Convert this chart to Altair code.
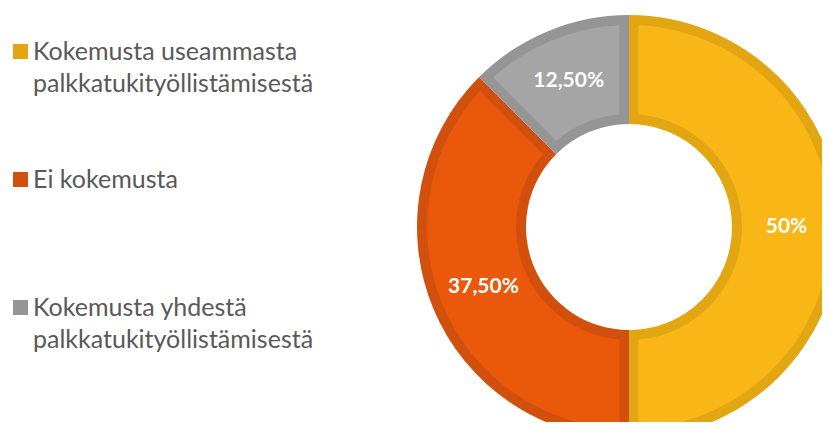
import altair as alt
import pandas as pd

# ---- data ----
categories = [
    "Kokemusta useammasta|palkkatukityöllistämisestä",
    "Ei kokemusta| ",
    "Kokemusta yhdestä|palkkatukityöllistämisestä",
]
values = [50, 37.5, 12.5]
value_labels = ["50%", "37,50%", "12,50%"]
order_idx = [0, 1, 2]
fill_colors = ["#F8B716", "#EA580C", "#A5A5A5"]
border_colors = ["#E2A613", "#D2500D", "#959595"]

df = pd.DataFrame({
    "category": categories,
    "value": values,
    "label": value_labels,
    "idx": order_idx,
    "fill": fill_colors,
})

CX, CY = 621, 219
R_OUT, R_IN = 212, 103
BORDER = 10

base = alt.Chart(df).encode(
    theta=alt.Theta("value:Q", stack=True),
    order=alt.Order("idx:Q"),
)

outer = base.mark_arc(radius=R_OUT, radius2=R_IN).encode(
    x=alt.value(CX),
    y=alt.value(CY),
    color=alt.Color(
        "category:N",
        scale=alt.Scale(domain=categories, range=border_colors),
        sort=categories,
        legend=alt.Legend(
            orient="none",
            legendX=0,
            legendY=31,
            title=None,
            padding=0,
            symbolType="square",
            symbolSize=225,
            symbolStrokeWidth=0,
            symbolOpacity=1,
            labelFont="Lato",
            labelFontSize=25,
            labelColor="#595959",
            labelOffset=0,
            labelLimit=500,
            labelBaseline="middle",
            rowPadding=70,
            labelExpr="split(datum.label, '|')",
        ),
    ),
)

inner = base.mark_arc(
    radius=R_OUT - BORDER, radius2=R_IN + BORDER, padAngle=0.082
).encode(
    x=alt.value(CX),
    y=alt.value(CY),
    fill=alt.Fill("fill:N", scale=None),
)

text = base.mark_text(
    radius=(R_OUT + R_IN) / 2,
    font="Lato",
    fontSize=21,
    fontWeight="bold",
    color="white",
).encode(
    x=alt.value(CX),
    y=alt.value(CY),
    text="label:N",
)

chart = (
    alt.layer(outer, inner, text)
    .properties(
        width=814,
        height=414,
        autosize=alt.AutoSizeParams(type="none"),
        padding=0,
    )
    .configure(
        view=alt.ViewConfig(stroke=None),
        style={"guide-label": {"lineHeight": 32}},
    )
)

chart.save("out.html", embed_options={"renderer": "svg", "actions": False})
